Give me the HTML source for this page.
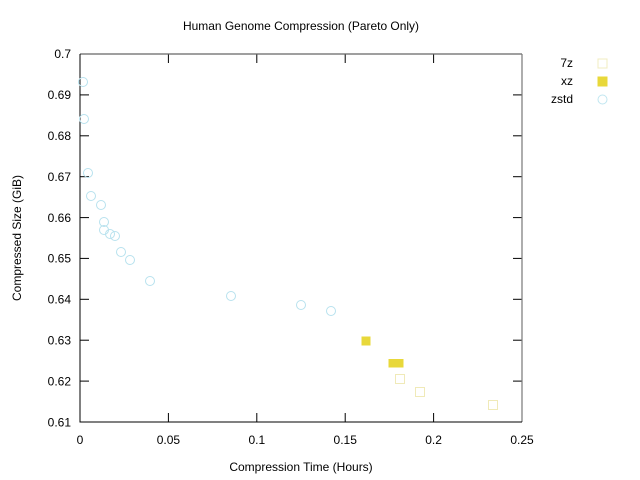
<!DOCTYPE html>
<html><head><meta charset="utf-8"><style>
html,body{margin:0;padding:0;background:#fff;}
svg{display:block;font-family:"Liberation Sans",Arial,sans-serif;}
</style></head><body>
<svg width="640" height="480" viewBox="0 0 640 480" xmlns="http://www.w3.org/2000/svg">
<rect width="640" height="480" fill="#fff"/>
<text x="301" y="30" font-size="12" text-anchor="middle" fill="#000" textLength="236" lengthAdjust="spacingAndGlyphs">Human Genome Compression (Pareto Only)</text>
<g stroke="#000" stroke-width="1">
<line x1="80" y1="94.9" x2="89" y2="94.9"/><line x1="80" y1="135.8" x2="89" y2="135.8"/><line x1="80" y1="176.7" x2="89" y2="176.7"/><line x1="80" y1="217.6" x2="89" y2="217.6"/><line x1="80" y1="258.4" x2="89" y2="258.4"/><line x1="80" y1="299.3" x2="89" y2="299.3"/><line x1="80" y1="340.2" x2="89" y2="340.2"/><line x1="80" y1="381.1" x2="89" y2="381.1"/>
<line x1="522" y1="94.9" x2="513" y2="94.9"/><line x1="522" y1="135.8" x2="513" y2="135.8"/><line x1="522" y1="176.7" x2="513" y2="176.7"/><line x1="522" y1="217.6" x2="513" y2="217.6"/><line x1="522" y1="258.4" x2="513" y2="258.4"/><line x1="522" y1="299.3" x2="513" y2="299.3"/><line x1="522" y1="340.2" x2="513" y2="340.2"/><line x1="522" y1="381.1" x2="513" y2="381.1"/>
<line x1="168.4" y1="422" x2="168.4" y2="413"/><line x1="256.8" y1="422" x2="256.8" y2="413"/><line x1="345.2" y1="422" x2="345.2" y2="413"/><line x1="433.6" y1="422" x2="433.6" y2="413"/>
<line x1="168.4" y1="54" x2="168.4" y2="63"/><line x1="256.8" y1="54" x2="256.8" y2="63"/><line x1="345.2" y1="54" x2="345.2" y2="63"/><line x1="433.6" y1="54" x2="433.6" y2="63"/>
</g>
<line x1="80" y1="54" x2="522" y2="54" stroke="#666" stroke-width="1.2"/>
<line x1="522" y1="54" x2="522" y2="422" stroke="#777" stroke-width="1.2"/>
<line x1="80" y1="54" x2="80" y2="422.5" stroke="#000" stroke-width="1"/>
<line x1="79.5" y1="422" x2="522" y2="422" stroke="#000" stroke-width="1"/>
<g font-size="12" text-anchor="end" fill="#000">
<text x="71" y="58">0.7</text>
<text x="71" y="99">0.69</text>
<text x="71" y="140">0.68</text>
<text x="71" y="181">0.67</text>
<text x="71" y="222">0.66</text>
<text x="71" y="262.5">0.65</text>
<text x="71" y="303.5">0.64</text>
<text x="71" y="344.5">0.63</text>
<text x="71" y="385.5">0.62</text>
<text x="71" y="426.5">0.61</text>
</g>
<g font-size="12" text-anchor="middle" fill="#000">
<text x="80" y="444">0</text>
<text x="168.4" y="444">0.05</text>
<text x="256.8" y="444">0.1</text>
<text x="345.2" y="444">0.15</text>
<text x="433.6" y="444">0.2</text>
<text x="522" y="444">0.25</text>
</g>
<text x="301" y="471" font-size="12" text-anchor="middle">Compression Time (Hours)</text>
<text transform="translate(21,238) rotate(-90)" font-size="12" text-anchor="middle">Compressed Size (GiB)</text>
<g font-size="12" text-anchor="end">
<text x="573" y="67">7z</text>
<text x="573" y="85">xz</text>
<text x="573" y="103">zstd</text>
</g>
<rect x="598" y="59" width="9" height="9" fill="none" stroke="#f2ecc0" stroke-width="1"/>
<rect x="597.5" y="76.5" width="10" height="10" fill="#e8d83a"/>
<circle cx="602.5" cy="99.5" r="4.5" fill="none" stroke="#c0e6f0" stroke-width="1"/>
<g fill="none" stroke="#b8e2ee" stroke-width="1">
<circle cx="83" cy="82" r="4.5"/>
<circle cx="84" cy="119" r="4.5"/>
<circle cx="88" cy="173" r="4.5"/>
<circle cx="91" cy="196" r="4.5"/>
<circle cx="101" cy="205" r="4.5"/>
<circle cx="104" cy="222" r="4.5"/>
<circle cx="104" cy="230" r="4.5"/>
<circle cx="110" cy="234" r="4.5"/>
<circle cx="115" cy="236" r="4.5"/>
<circle cx="121" cy="252" r="4.5"/>
<circle cx="130" cy="260" r="4.5"/>
<circle cx="150" cy="281" r="4.5"/>
<circle cx="231" cy="296" r="4.5"/>
<circle cx="301" cy="305" r="4.5"/>
<circle cx="331" cy="311" r="4.5"/>
</g>
<g fill="none" stroke="#f0eab8" stroke-width="1">
<rect x="395.5" y="374.5" width="9" height="9"/>
<rect x="415.5" y="387.5" width="9" height="9"/>
<rect x="488.5" y="400.5" width="9" height="9"/>
</g>
<g fill="#e8d83a">
<rect x="361.5" y="336.5" width="9" height="9"/>
<rect x="388.5" y="359" width="15" height="8.5"/>
</g>
</svg>
</body></html>
